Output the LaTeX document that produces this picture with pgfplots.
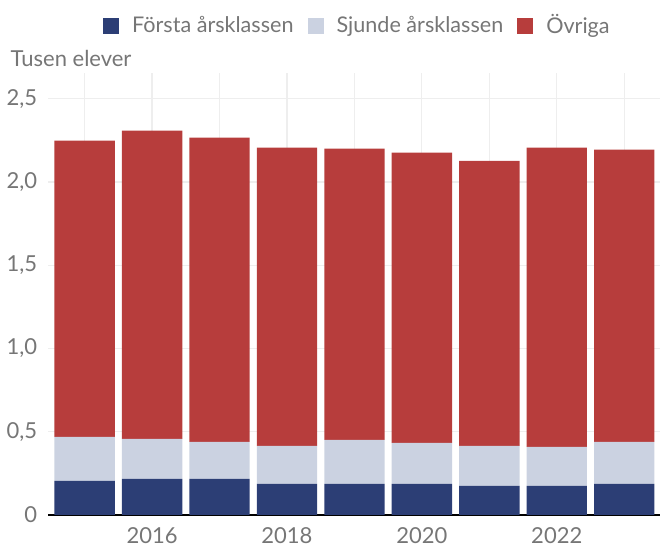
\documentclass[border=0pt]{standalone}
\usepackage{fontspec}
\setmainfont{Lato}
\usepackage{pgfplots}
\pgfplotsset{compat=1.18}
\definecolor{forsta}{RGB}{44,62,117}
\definecolor{sjunde}{RGB}{203,210,225}
\definecolor{ovriga}{RGB}{183,61,60}
\definecolor{txtgray}{RGB}{118,118,118}
\definecolor{gridgray}{RGB}{238,238,238}

\pgfplotstableread{
year forsta sjunde ovriga
2015 0.204 0.265 1.779
2016 0.216 0.241 1.851
2017 0.216 0.223 1.827
2018 0.186 0.229 1.791
2019 0.186 0.265 1.749
2020 0.186 0.247 1.743
2021 0.174 0.241 1.712
2022 0.174 0.235 1.797
2023 0.186 0.253 1.755
}\elever

\begin{document}
\begin{tikzpicture}
\begin{axis}[
  scale only axis,
  width=306pt, height=221pt,
  ybar stacked, bar width=0.895, bar shift=0pt,
  xmin=2014.46, xmax=2023.53,
  ymin=0, ymax=2.655,
  xtick={2015,...,2023},
  xticklabels={,2016,,2018,,2020,,2022,},
  ytick={0,0.5,1,1.5,2,2.5},
  yticklabels={0,{0,5},{1,0},{1,5},{2,0},{2,5}},
  major tick length=0pt,
  xmajorgrids, ymajorgrids,
  grid style={gridgray, line width=0.6pt},
  axis x line*=bottom, axis y line*=left,
  x axis line style={-, black, line width=0.7pt},
  y axis line style={draw=none},
  tick label style={font=\fontsize{11}{13}\selectfont, text=txtgray},
  xticklabel style={yshift=-3pt},
  yticklabel style={xshift=-2pt},
  clip=false,
  legend columns=3,
  legend style={at={(0.507,1.107)}, anchor=center, draw=none, fill=none,
    font=\fontsize{10.8}{12}\selectfont, text=txtgray,
    /tikz/every odd column/.append style={column sep=4.5pt},
    /tikz/every even column/.append style={column sep=5pt}},
  legend image code/.code={\fill[#1] (0pt,-4pt) rectangle (8pt,4pt);},
]
\addplot[fill=forsta, draw=none] table[x=year, y=forsta] {\elever};
\addplot[fill=sjunde, draw=none] table[x=year, y=sjunde] {\elever};
\addplot[fill=ovriga, draw=none] table[x=year, y=ovriga] {\elever};
\legend{Första årsklassen, Sjunde årsklassen, Övriga}
\node[anchor=base west, inner sep=0pt, text=txtgray, font=\fontsize{11}{13}\selectfont]
  at ([xshift=-19pt, yshift=3pt]rel axis cs:0,1) {Tusen elever};
\path ([xshift=-24pt, yshift=-14pt]rel axis cs:0,0) coordinate (bbA);
\path ([xshift=0.5pt, yshift=36.5pt]rel axis cs:1,1) coordinate (bbB);
\end{axis}
\path (bbA) (bbB);
\end{tikzpicture}
\end{document}
